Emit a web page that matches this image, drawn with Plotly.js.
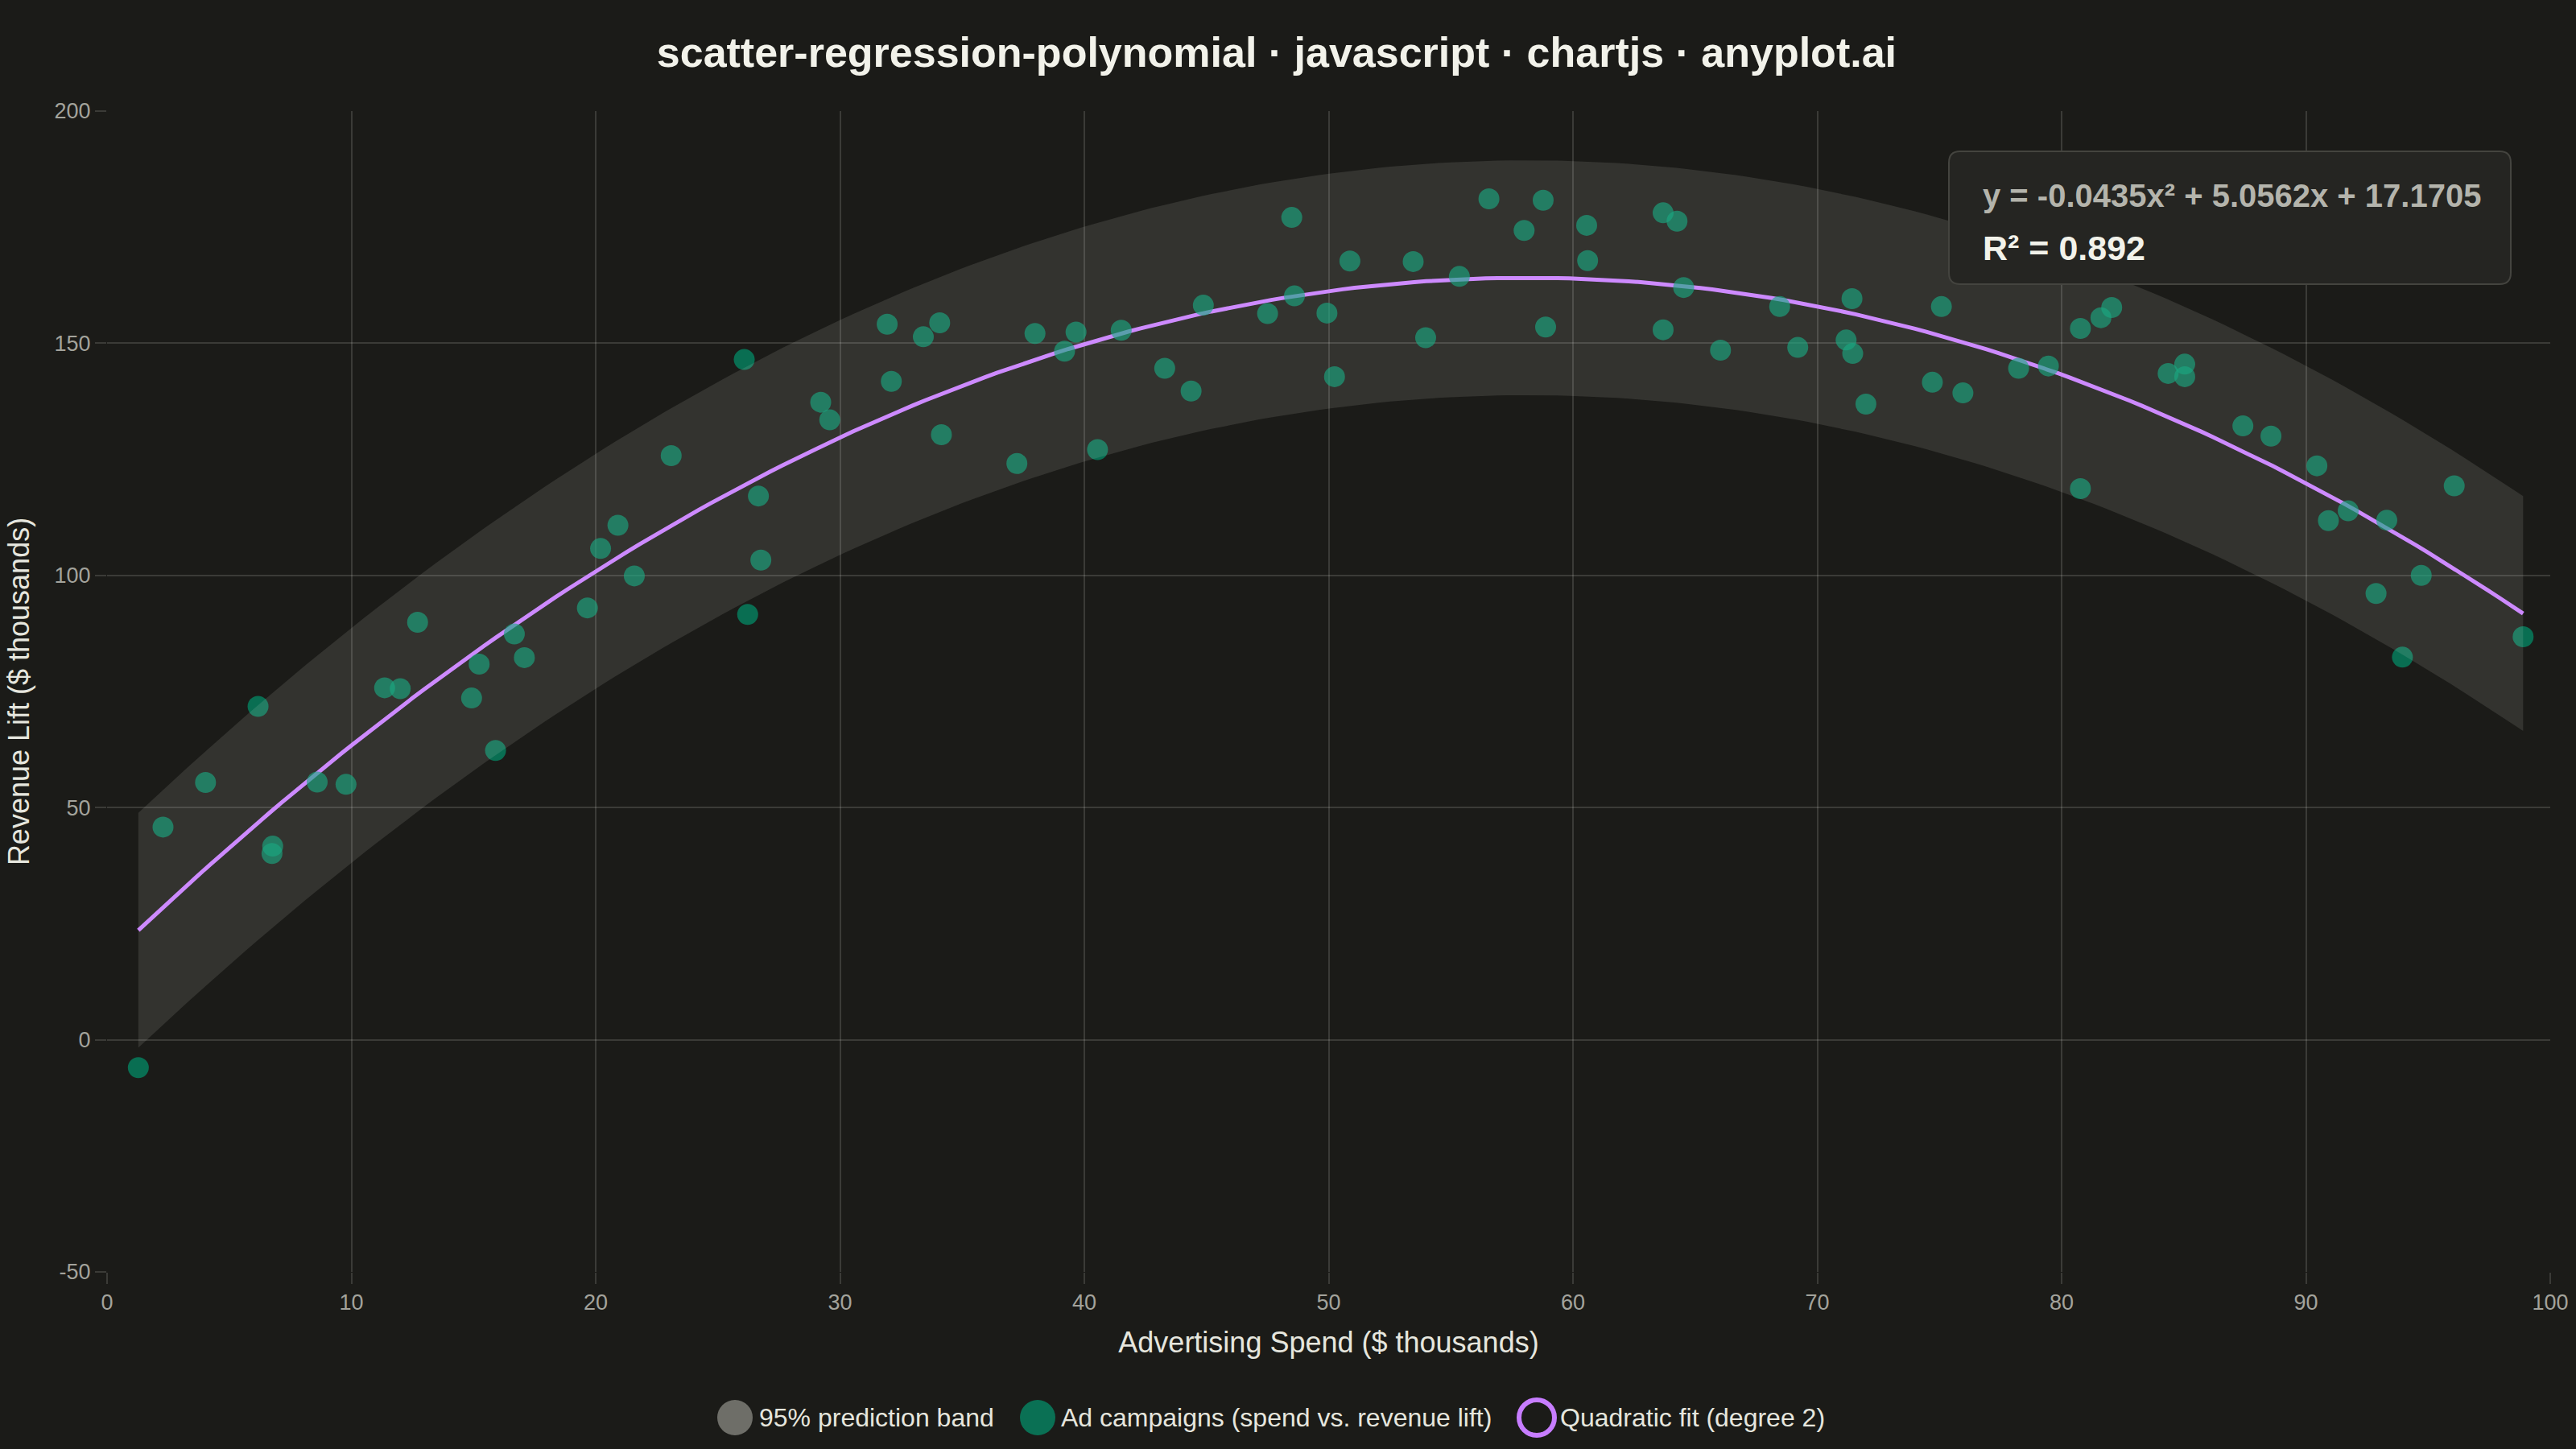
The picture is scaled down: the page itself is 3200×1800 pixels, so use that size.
<!DOCTYPE html>
<html>
<head>
<meta charset="utf-8">
<script src="https://cdn.plot.ly/plotly-3.0.1.min.js"></script>
<style>
  html, body { margin: 0; padding: 0; background: #1b1b18; }
  #chart { width: 3200px; height: 1800px; }
</style>
</head>
<body>
<div id="chart"></div>
<script>
// ---- Data ----
const adSpend = [
  1.28, 2.29, 4.03, 6.18, 6.75, 6.78, 8.6, 9.78, 11.36, 12.0,
  12.71, 14.92, 15.23, 15.9, 16.67, 17.08, 19.66, 20.2, 20.91, 21.58,
  23.09, 26.08, 26.22, 26.66, 26.76, 29.21, 29.58, 31.93, 32.1, 33.41,
  34.08, 34.15, 37.24, 37.98, 39.19, 39.66, 40.54, 41.51, 43.29, 44.37,
  44.87, 47.5, 48.49, 48.6, 49.93, 50.24, 50.87, 53.46, 53.97, 55.35,
  56.56, 58.0, 58.78, 58.88, 60.56, 60.6, 63.69, 64.26, 63.69, 64.53,
  66.04, 68.46, 69.2, 71.42, 71.18, 71.45, 71.99, 74.71, 75.08, 75.96,
  78.24, 79.46, 80.77, 80.77, 81.61, 82.05, 84.36, 85.04, 85.04, 87.42,
  88.57, 90.45, 90.92, 91.73, 92.87, 93.31, 93.95, 94.72, 96.07, 98.89
];
const revenueLift = [
  -6.0, 45.8, 55.4, 71.8, 40.1, 41.7, 55.5, 55.0, 75.8, 75.6,
  89.9, 73.6, 80.9, 62.3, 87.4, 82.3, 93.0, 105.8, 110.8, 99.9,
  125.8, 146.5, 91.6, 117.1, 103.3, 137.3, 133.5, 154.1, 141.8, 151.4,
  154.4, 130.3, 124.1, 152.1, 148.3, 152.4, 127.1, 152.8, 144.6, 139.7,
  158.2, 156.4, 177.1, 160.2, 156.5, 142.8, 167.7, 167.6, 151.2, 164.4,
  181.1, 174.3, 180.8, 153.5, 175.4, 167.8, 178.1, 176.3, 152.9, 162.0,
  148.5, 157.9, 149.1, 159.6, 150.7, 147.8, 136.9, 141.6, 157.9, 139.3,
  144.6, 145.1, 153.2, 118.7, 155.5, 157.7, 143.5, 145.5, 142.8, 132.2,
  130.0, 123.6, 111.8, 113.9, 96.1, 111.9, 82.4, 100.0, 119.3, 86.8
];
// Fitted coefficients shown on the chart: y = b2 x^2 + b1 x + b0
const fitCoefficients = { b0: 17.1705, b1: 5.0562, b2: -0.0435 };
const rSquaredText = "0.892";
const xTicks = [0, 10, 20, 30, 40, 50, 60, 70, 80, 90, 100];
const yTicks = [-50, 0, 50, 100, 150, 200];
const legendLabels = ["95% prediction band", "Ad campaigns (spend vs. revenue lift)", "Quadratic fit (degree 2)"];
const titleText = "scatter-regression-polynomial · javascript · chartjs · anyplot.ai";

// ---- Regression curve and 95% prediction band (±1.96 · residual SD) ----
const predict = x => fitCoefficients.b0 + fitCoefficients.b1 * x + fitCoefficients.b2 * x * x;
const n = adSpend.length;
let sse = 0;
for (let i = 0; i < n; i++) { const r = revenueLift[i] - predict(adSpend[i]); sse += r * r; }
const residualSD = Math.sqrt(sse / (n - 3));
const halfWidth = 1.96 * residualSD;
const xMin = Math.min(...adSpend), xMax = Math.max(...adSpend);
const curveX = [], curveY = [], upperY = [], lowerY = [];
const steps = 200;
for (let i = 0; i <= steps; i++) {
  const x = xMin + (xMax - xMin) * i / steps;
  const y = predict(x);
  curveX.push(x); curveY.push(y); upperY.push(y + halfWidth); lowerY.push(y - halfWidth);
}
const bandX = curveX.concat(curveX.slice().reverse());
const bandY = upperY.concat(lowerY.slice().reverse());

// ---- Styling ----
const BG = "#1b1b18";
const GRID = "rgba(255,255,250,0.14)";
const GREEN = "rgba(0,158,115,0.64)";
const PURPLE = "#c77dff";
const FONT = "Liberation Sans, Arial, sans-serif";

const traces = [
  {
    x: curveX, y: curveY, type: "scatter", mode: "lines",
    line: { color: PURPLE, width: 5 }, showlegend: false, name: legendLabels[2]
  },
  {
    x: adSpend, y: revenueLift, type: "scatter", mode: "markers",
    marker: { size: 26, color: GREEN, line: { width: 0 } },
    showlegend: false, name: legendLabels[1]
  },
  {
    x: bandX, y: bandY, type: "scatter", mode: "lines", fill: "toself",
    fillcolor: "rgba(255,255,245,0.105)", line: { width: 0, color: "rgba(0,0,0,0)" },
    hoverinfo: "skip", showlegend: false, name: legendLabels[0]
  }
];

// plot area geometry (pixels) used to place paper-referenced decorations
const W = 3200, H = 1800;
const M = { l: 133, r: 32, t: 138, b: 220 };
const pw = W - M.l - M.r, ph = H - M.t - M.b;
const px = xpix => (xpix - M.l) / pw;
const py = ypix => (H - M.b - ypix) / ph;

function roundRect(x0, y0, x1, y1, r) {
  const X0 = px(x0), X1 = px(x1), Y0 = py(y1), Y1 = py(y0);
  const rx = r / pw, ry = r / ph;
  return `M ${X0 + rx},${Y1} L ${X1 - rx},${Y1} Q ${X1},${Y1} ${X1},${Y1 - ry} ` +
         `L ${X1},${Y0 + ry} Q ${X1},${Y0} ${X1 - rx},${Y0} L ${X0 + rx},${Y0} ` +
         `Q ${X0},${Y0} ${X0},${Y0 + ry} L ${X0},${Y1 - ry} Q ${X0},${Y1} ${X0 + rx},${Y1} Z`;
}

const legendY = py(1761);
const legendItems = [
  { cx: 913, tx: 941, shape: { fillcolor: "#6e6e68", line: { width: 0 } } },
  { cx: 1289, tx: 1316, shape: { fillcolor: "#0a7054", line: { width: 0 } } },
  { cx: 1909, tx: 1936, shape: { fillcolor: "rgba(0,0,0,0)", line: { width: 6, color: PURPLE } } }
];
const shapes = [
  {
    type: "path", xref: "paper", yref: "paper", layer: "above",
    path: roundRect(2421, 188, 3119, 353, 14),
    fillcolor: "#252522", line: { color: "#44443f", width: 2 }
  }
];
const annotations = [
  {
    xref: "paper", yref: "paper", x: px(2461), y: py(243), xanchor: "left", yanchor: "middle",
    text: "<b>y = " + fitCoefficients.b2.toFixed(4) + "x² + " + fitCoefficients.b1.toFixed(4) +
          "x + " + fitCoefficients.b0.toFixed(4) + "</b>",
    showarrow: false, font: { family: FONT, size: 40, color: "#b4b4ac" }
  },
  {
    xref: "paper", yref: "paper", x: px(2461), y: py(308), xanchor: "left", yanchor: "middle",
    text: "<b>R² = " + rSquaredText + "</b>",
    showarrow: false, font: { family: FONT, size: 43, color: "#f2f2ea" }
  }
];
legendItems.forEach((it, i) => {
  const rad = 22;
  shapes.push(Object.assign({
    type: "circle", xref: "paper", yref: "paper", xsizemode: "pixel", ysizemode: "pixel",
    xanchor: px(it.cx), yanchor: legendY, x0: -rad, x1: rad, y0: -rad, y1: rad
  }, it.shape));
  annotations.push({
    xref: "paper", yref: "paper", x: px(it.tx), y: legendY, xanchor: "left", yanchor: "middle",
    text: legendLabels[i], showarrow: false, font: { family: FONT, size: 32, color: "#e6e6de" }
  });
});

const layout = {
  width: W, height: H,
  paper_bgcolor: BG, plot_bgcolor: BG,
  margin: M,
  showlegend: false,
  font: { family: FONT, color: "#e6e6de" },
  title: {
    text: "<b>" + titleText + "</b>",
    x: 0.4956, xanchor: "center", y: 1 - 65 / H, yanchor: "middle",
    font: { family: FONT, size: 52, color: "#f2f2ea" }
  },
  xaxis: {
    range: [0, 100], tickvals: xTicks, ticktext: xTicks.map(String),
    showgrid: true, gridcolor: GRID, gridwidth: 2, zeroline: false,
    showline: false, ticks: "outside", ticklen: 14, tickcolor: GRID, tickwidth: 2,
    tickfont: { family: FONT, size: 27, color: "#a3a39c" },
    title: { text: "Advertising Spend ($ thousands)", standoff: 22, font: { family: FONT, size: 36, color: "#e6e6de" } },
    automargin: false
  },
  yaxis: {
    range: [-50, 200], tickvals: yTicks, ticktext: yTicks.map(String),
    showgrid: true, gridcolor: GRID, gridwidth: 2, zeroline: false,
    showline: false, ticks: "outside", ticklen: 14, tickcolor: GRID, tickwidth: 2,
    tickfont: { family: FONT, size: 27, color: "#a3a39c" },
    title: { text: "Revenue Lift ($ thousands)", standoff: 19, font: { family: FONT, size: 36, color: "#e6e6de" } },
    automargin: false
  },
  shapes: shapes,
  annotations: annotations
};

Plotly.newPlot("chart", traces, layout, { displayModeBar: false, staticPlot: true });
</script>
</body>
</html>
